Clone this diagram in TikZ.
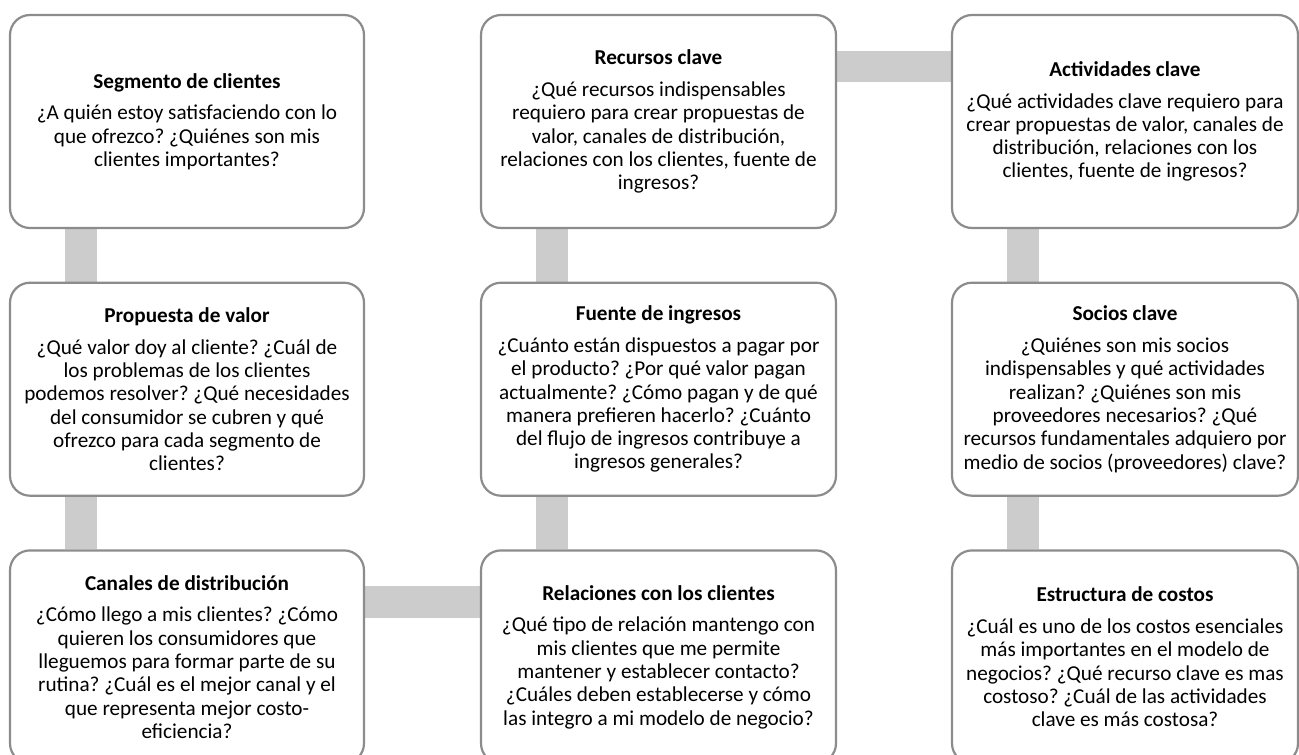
\documentclass[tikz,border=0pt]{standalone}
\usepackage{fontspec}
\setmainfont{Carlito}
\usepackage{tikz}
\usetikzlibrary{positioning}
\usetikzlibrary{backgrounds}
\definecolor{borde}{RGB}{140,140,140}
\definecolor{barra}{RGB}{204,204,204}
\newcommand{\titulo}[1]{\textbf{#1}\\[8.5pt]}
\frenchspacing

\begin{document}
\begin{tikzpicture}[x=1pt,y=-1pt,
	bloque/.style={draw=borde,line width=2.2pt,fill=white,rounded corners=20pt,
		minimum height=213pt,inner sep=0pt,align=center,
		font=\fontsize{21.2}{23.3}\selectfont},
	conector/.style={draw=barra,line width=31.5pt}]
	\useasboundingbox (0,0) rectangle (1299,755);
	\node[bloque,minimum width=354pt] (seg) at (187,121.5) {\titulo{Segmento de clientes}
		¿A quién estoy satisfaciendo con lo\\ que ofrezco? ¿Quiénes son mis\\ clientes importantes?};
	\node[bloque,minimum width=355pt] (rec) at (658.5,121.5) {\titulo{Recursos clave}
		¿Qué recursos indispensables\\ requiero para crear propuestas de\\ valor, canales de distribución,\\ relaciones con los clientes, fuente de\\ ingresos?};
	\node[bloque,minimum width=346pt] (act) at (1125,121.5) {\titulo{Actividades clave}
		¿Qué actividades clave requiero para\\ crear propuestas de valor, canales de\\ distribución, relaciones con los\\ clientes, fuente de ingresos?};
	\node[bloque,minimum width=354pt,below=52.5pt of seg] (prop) {\titulo{Propuesta de valor}
		¿Qué valor doy al cliente? ¿Cuál de\\ los problemas de los clientes\\ podemos resolver? ¿Qué necesidades\\ del consumidor se cubren y qué\\ ofrezco para cada segmento de\\ clientes?};
	\node[bloque,minimum width=355pt,below=52.5pt of rec] (fue) {\titulo{Fuente de ingresos}
		¿Cuánto están dispuestos a pagar por\\ el producto? ¿Por qué valor pagan\\ actualmente? ¿Cómo pagan y de qué\\ manera prefieren hacerlo? ¿Cuánto\\ del flujo de ingresos contribuye a\\ ingresos generales?};
	\node[bloque,minimum width=346pt,below=52.5pt of act] (soc) {\titulo{Socios clave}
		¿Quiénes son mis socios\\ indispensables y qué actividades\\ realizan? ¿Quiénes son mis\\ proveedores necesarios? ¿Qué\\ recursos fundamentales adquiero por\\ medio de socios (proveedores) clave?};
	\node[bloque,minimum width=354pt,below=52.5pt of prop] (can) {\titulo{Canales de distribución}
		¿Cómo llego a mis clientes? ¿Cómo\\ quieren los consumidores que\\ lleguemos para formar parte de su\\ rutina? ¿Cuál es el mejor canal y el\\ que representa mejor costo-\\ eficiencia?};
	\node[bloque,minimum width=355pt,below=52.5pt of fue] (rel) {\titulo{Relaciones con los clientes}
		¿Qué tipo de relación mantengo con\\ mis clientes que me permite\\ mantener y establecer contacto?\\ ¿Cuáles deben establecerse y cómo\\ las integro a mi modelo de negocio?};
	\node[bloque,minimum width=346pt,below=52.5pt of soc] (est) {\titulo{Estructura de costos}
		¿Cuál es uno de los costos esenciales\\ más importantes en el modelo de\\ negocios? ¿Qué recurso clave es mas\\ costoso? ¿Cuál de las actividades\\ clave es más costosa?};
	\begin{scope}[on background layer]
	\draw[conector] ([xshift=72pt]seg.south west)--([xshift=72pt]prop.north west);
	\draw[conector] ([xshift=72pt]prop.south west)--([xshift=72pt]can.north west);
	\draw[conector] ([xshift=72pt]rec.south west)--([xshift=72pt]fue.north west);
	\draw[conector] ([xshift=72pt]fue.south west)--([xshift=72pt]rel.north west);
	\draw[conector] ([xshift=72pt]act.south west)--([xshift=72pt]soc.north west);
	\draw[conector] ([xshift=72pt]soc.south west)--([xshift=72pt]est.north west);
	\draw[conector] ([yshift=-52.5pt]rec.north east)--([yshift=-52.5pt]act.north west);
	\draw[conector] ([yshift=-52.5pt]can.north east)--([yshift=-52.5pt]rel.north west);
	\end{scope}
\end{tikzpicture}
\end{document}
